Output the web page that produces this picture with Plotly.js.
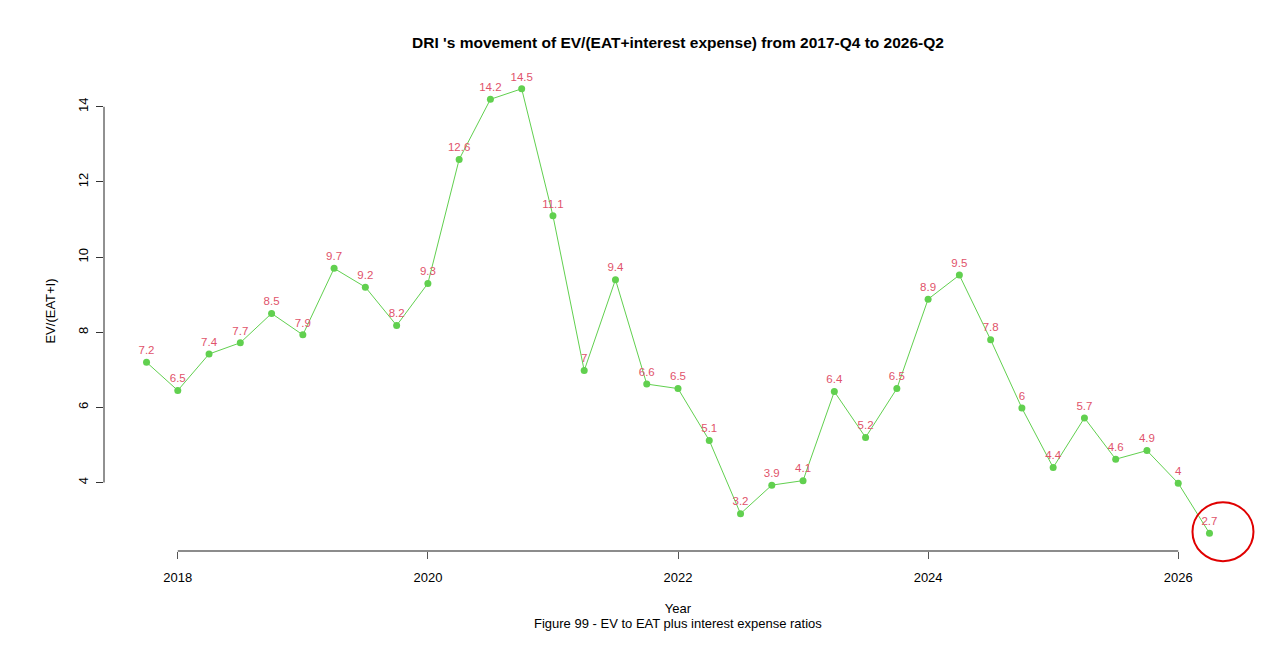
<!DOCTYPE html>
<html>
<head>
<meta charset="utf-8">
<script src="https://cdn.plot.ly/plotly-3.0.1.min.js"></script>
<style>
  html, body { margin: 0; padding: 0; background: #fff; }
  #chart { width: 1273px; height: 653px; }
</style>
</head>
<body>
<div id="chart"></div>
<script>
// quarters 2017-Q4 .. 2026-Q2
const quarters = [
  '2017-Q4',
  '2018-Q1', '2018-Q2', '2018-Q3', '2018-Q4',
  '2019-Q1', '2019-Q2', '2019-Q3', '2019-Q4',
  '2020-Q1', '2020-Q2', '2020-Q3', '2020-Q4',
  '2021-Q1', '2021-Q2', '2021-Q3', '2021-Q4',
  '2022-Q1', '2022-Q2', '2022-Q3', '2022-Q4',
  '2023-Q1', '2023-Q2', '2023-Q3', '2023-Q4',
  '2024-Q1', '2024-Q2', '2024-Q3', '2024-Q4',
  '2025-Q1', '2025-Q2', '2025-Q3', '2025-Q4',
  '2026-Q1', '2026-Q2'
];
const evRatio = [
  7.2, 6.45, 7.42, 7.72, 8.5, 7.93, 9.7, 9.2, 8.18, 9.3,
  12.6, 14.2, 14.48, 11.1, 6.98, 9.4, 6.62, 6.5, 5.12, 3.17,
  3.93, 4.05, 6.42, 5.2, 6.5, 8.88, 9.52, 7.8, 5.98, 4.4,
  5.72, 4.62, 4.85, 3.98, 2.65
];
const evLabels = [
  '7.2', '6.5', '7.4', '7.7', '8.5', '7.9', '9.7', '9.2', '8.2', '9.3',
  '12.6', '14.2', '14.5', '11.1', '7', '9.4', '6.6', '6.5', '5.1', '3.2',
  '3.9', '4.1', '6.4', '5.2', '6.5', '8.9', '9.5', '7.8', '6', '4.4',
  '5.7', '4.6', '4.9', '4', '2.7'
];
const xTicks = [2018, 2020, 2022, 2024, 2026];
const yTicks = [4, 6, 8, 10, 12, 14];

// quarter string -> decimal year (Q1 = .00, Q4 = .75)
function quarterToYear(q) {
  const parts = q.split('-Q');
  return Number(parts[0]) + (Number(parts[1]) - 1) / 4;
}

// R style 4% padding on the data range
function padRange(arr) {
  const lo = Math.min.apply(null, arr);
  const hi = Math.max.apply(null, arr);
  const d = (hi - lo) * 0.04;
  return [lo - d, hi + d];
}

function toPaper(v, range) {
  return (v - range[0]) / (range[1] - range[0]);
}

const xVals  = quarters.map(quarterToYear);
const xRange = padRange(xVals);
const yRange = padRange(evRatio);
const green = '#61D04F';
const pink  = '#DF536B';
const font  = '"Liberation Sans", Arial, sans-serif';

const trace = {
  x: xVals,
  y: evRatio,
  text: evLabels,
  type: 'scatter',
  mode: 'lines+markers+text',
  line:   { color: green, width: 1 },
  marker: { color: green, size: 7 },
  textposition: 'top center',
  textfont: { color: pink, size: 11.5, family: font },
  cliponaxis: false,
  hoverinfo: 'x+y',
};

const last = xVals.length - 1;

const layout = {
  width: 1273,
  height: 653,
  paper_bgcolor: '#fff',
  plot_bgcolor: '#fff',
  showlegend: false,
  font: { family: font, color: '#000', size: 13 },
  margin: { l: 104, r: 21, t: 71, b: 102 },
  title: {
    text: "<b>DRI 's movement of EV/(EAT+interest expense) from 2017-Q4 to 2026-Q2</b>",
    font: { size: 15.5, family: font, color: '#000' },
    xref: 'paper', x: 0.5, xanchor: 'center', y: 0.935, yanchor: 'middle',
  },
  xaxis: {
    range: xRange,
    showgrid: false, zeroline: false, showline: false,
    tickvals: xTicks,
    ticks: 'outside', ticklen: 7, tickcolor: '#555', tickwidth: 1,
    ticklabelstandoff: 7,
    tickfont: { size: 13, family: font },
    title: { text: 'Year', font: { size: 13, family: font }, standoff: 20 },
  },
  yaxis: {
    range: yRange,
    showgrid: false, zeroline: false, showline: false,
    tickvals: yTicks,
    ticks: 'outside', ticklen: 7, tickcolor: '#333', tickwidth: 1,
    tickangle: -90,
    ticklabelstandoff: 3,
    tickfont: { size: 13, family: font },
    title: { text: 'EV/(EAT+I)', font: { size: 13, family: font }, standoff: 17 },
  },
  shapes: [
    // R style axis lines spanning only the tick range
    {
      type: 'line', xref: 'x', yref: 'paper',
      x0: xTicks[0], x1: xTicks[xTicks.length - 1], y0: 0, y1: 0,
      line: { color: '#666', width: 1.5 },
    },
    {
      type: 'line', xref: 'paper', yref: 'y',
      x0: 0, x1: 0, y0: yTicks[0], y1: yTicks[yTicks.length - 1],
      line: { color: '#222', width: 1 },
    },
    // hand drawn highlight round the latest value (paper refs so it is not clipped)
    {
      type: 'circle', xref: 'paper', yref: 'paper',
      xsizemode: 'pixel', ysizemode: 'pixel',
      xanchor: toPaper(xVals[last], xRange), yanchor: toPaper(evRatio[last], yRange),
      x0: -17, x1: 44, y0: -28, y1: 31,
      line: { color: '#E00000', width: 2 },
    },
  ],
  annotations: [
    {
      xref: 'paper', yref: 'paper', x: 0.5, y: 0, yshift: -63,
      xanchor: 'center', yanchor: 'top', showarrow: false,
      text: 'Figure 99 - EV to EAT plus interest expense ratios',
      font: { size: 13, family: font, color: '#000' },
    },
  ],
};

Plotly.newPlot('chart', [trace], layout, { displayModeBar: false, staticPlot: true });
</script>
</body>
</html>
